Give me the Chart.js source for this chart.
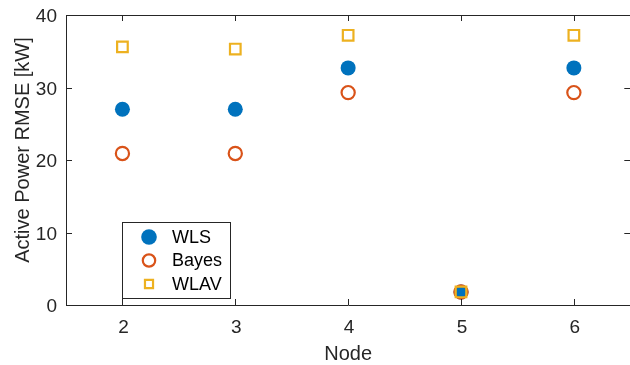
<!DOCTYPE html>
<html>
<head>
<meta charset="utf-8">
<script src="https://cdn.jsdelivr.net/npm/chart.js@4"></script>
<style>
  html, body { margin: 0; padding: 0; background: #fff; overflow: hidden; }
  #wrap { width: 630px; height: 365px; overflow: hidden; }
</style>
</head>
<body>
<div id="wrap"><canvas id="c" width="640" height="365"></canvas></div>
<script>
// données
const nodes = [2, 3, 4, 5, 6];
const wls = [27.0, 27.0, 32.7, 1.8, 32.7];
const bayes = [20.9, 20.9, 29.3, 1.8, 29.3];
const wlav = [35.6, 35.3, 37.2, 1.8, 37.2];
const xTicks = [2, 3, 4, 5, 6];
const yTicks = [0, 10, 20, 30, 40];
const xTitle = 'Node';
const yTitle = 'Active Power RMSE [kW]';

const axisColor = '#262626';
const font = 'Liberation Sans, Arial, sans-serif';

const pts = (ys) => nodes.map((x, i) => ({ x: x, y: ys[i] }));

// Boîte + graduations vers l'intérieur (style MATLAB) + étiquettes + titres + légende
// (la zone du graphique dépasse un peu à droite : le bord droit est coupé comme sur l'original)
const matlabBox = {
    id: 'matlabBox',
    afterDraw(chart) {
        const { ctx, chartArea: a, scales } = chart;
        ctx.save();
        ctx.strokeStyle = axisColor;
        ctx.lineWidth = 1;
        ctx.beginPath();
        ctx.rect(Math.round(a.left) + 0.5, Math.round(a.top) + 0.5,
                 Math.round(a.right - a.left), Math.round(a.bottom - a.top));
        ctx.stroke();
        ctx.beginPath();
        xTicks.forEach(v => {
            const x = Math.round(scales.x.getPixelForValue(v)) + 0.5;
            ctx.moveTo(x, a.bottom); ctx.lineTo(x, a.bottom - 6);
            ctx.moveTo(x, a.top); ctx.lineTo(x, a.top + 6);
        });
        yTicks.forEach(v => {
            const y = Math.round(scales.y.getPixelForValue(v)) + 0.5;
            ctx.moveTo(a.left, y); ctx.lineTo(a.left + 6, y);
            ctx.moveTo(a.right, y); ctx.lineTo(a.right - 6, y);
        });
        ctx.stroke();

        // étiquettes des graduations
        ctx.fillStyle = axisColor;
        ctx.font = '19px ' + font;
        ctx.textBaseline = 'alphabetic';
        ctx.textAlign = 'center';
        xTicks.forEach(v => {
            ctx.fillText(String(v), scales.x.getPixelForValue(v) + 1, a.bottom + 28);
        });
        ctx.textAlign = 'right';
        yTicks.forEach(v => {
            ctx.fillText(String(v), a.left - 9, scales.y.getPixelForValue(v) + 7);
        });

        // titres des axes
        ctx.font = '20px ' + font;
        ctx.textAlign = 'center';
        ctx.fillText(xTitle, (a.left + a.right) / 2, 360);
        ctx.save();
        ctx.translate(29, 150);
        ctx.rotate(-Math.PI / 2);
        ctx.fillText(yTitle, 0, 0);
        ctx.restore();

        // légende
        const lx = 122, ly = 222, lw = 108, lh = 76;
        ctx.fillStyle = '#fff';
        ctx.fillRect(lx, ly, lw, lh);
        ctx.strokeStyle = axisColor;
        ctx.lineWidth = 1;
        ctx.strokeRect(lx + 0.5, ly + 0.5, lw, lh);
        ctx.font = '18px ' + font;
        ctx.textBaseline = 'middle';
        ctx.textAlign = 'left';
        const legendRadius = [7.8, 6.2, 5.7];
        chart.data.datasets.forEach((ds, i) => {
            const y = ly + 15 + i * 23.5;
            ctx.fillStyle = ds.backgroundColor;
            ctx.strokeStyle = ds.borderColor;
            ctx.lineWidth = ds.borderWidth;
            Chart.helpers.drawPoint(ctx, {
                pointStyle: ds.pointStyle,
                radius: legendRadius[i],
                borderWidth: ds.borderWidth
            }, 149, y);
            ctx.fillStyle = '#000';
            ctx.fillText(ds.label, 172, y + 1);
        });
        ctx.restore();
    }
};

new Chart(document.getElementById('c'), {
    type: 'scatter',
    data: {
        datasets: [
            {
                label: 'WLS', data: pts(wls), pointStyle: 'circle', pointRadius: 7.5, order: 3,
                backgroundColor: '#0072BD', borderColor: '#0072BD', borderWidth: 0
            },
            {
                label: 'Bayes', data: pts(bayes), pointStyle: 'circle', pointRadius: 6.6, order: 2,
                backgroundColor: 'rgba(0,0,0,0)', borderColor: '#D95319', borderWidth: 2.2
            },
            {
                label: 'WLAV', data: pts(wlav), pointStyle: 'rect', pointRadius: 7.5, order: 1,
                backgroundColor: 'rgba(0,0,0,0)', borderColor: '#EDB120', borderWidth: 2.2
            }
        ]
    },
    options: {
        responsive: false,
        animation: false,
        layout: { padding: { top: 15, right: 7, left: 0, bottom: 0 } },
        plugins: { legend: { display: false }, tooltip: { enabled: false } },
        scales: {
            x: {
                type: 'linear', min: 1.5, max: 6.5,
                afterBuildTicks: s => { s.ticks = xTicks.map(v => ({ value: v })); },
                afterFit: s => { s.height = 60; },
                grid: { display: false, drawTicks: false },
                border: { display: false },
                ticks: { display: false }
            },
            y: {
                min: 0, max: 40,
                afterBuildTicks: s => { s.ticks = yTicks.map(v => ({ value: v })); },
                afterFit: s => { s.width = 66; },
                grid: { display: false, drawTicks: false },
                border: { display: false },
                ticks: { display: false }
            }
        }
    },
    plugins: [matlabBox]
});
</script>
</body>
</html>
